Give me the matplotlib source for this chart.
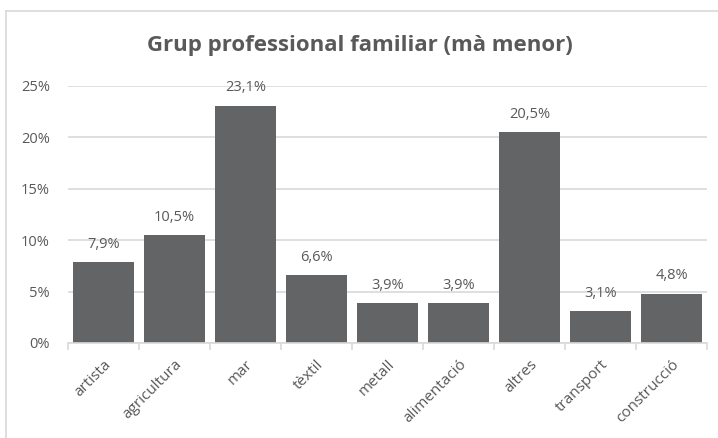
import matplotlib.pyplot as plt
from matplotlib.lines import Line2D
from matplotlib.ticker import FuncFormatter, FixedLocator

categories = ['artista', 'agricultura', 'mar', 'tèxtil', 'metall',
              'alimentació', 'altres', 'transport', 'construcció']
values = [7.9, 10.5, 23.1, 6.6, 3.9, 3.9, 20.5, 3.1, 4.8]
labels = ['7,9%', '10,5%', '23,1%', '6,6%', '3,9%', '3,9%', '20,5%', '3,1%', '4,8%']

plt.rcParams['font.family'] = ['Open Sans', 'DejaVu Sans']
text_col = '#595959'
grid_col = '#d9d9d9'
bar_col = '#636466'

fig = plt.figure(figsize=(7.18, 4.38), dpi=100)
ax = fig.add_axes([68 / 718, 1 - 343 / 438, (707 - 68) / 718, (343 - 86) / 438])

x = list(range(len(categories)))
ax.bar(x, values, width=0.86, color=bar_col, zorder=3)

for xi, v, lab in zip(x, values, labels):
    ax.text(xi, v + 1.0, lab, ha='center', va='bottom', fontsize=10.5, color=text_col)

ax.set_xlim(-0.5, len(categories) - 0.5)
ax.set_ylim(0, 25)
ax.set_yticks([0, 5, 10, 15, 20, 25])
ax.yaxis.set_major_formatter(FuncFormatter(lambda v, p: f'{v:.0f}%'))
ax.grid(axis='y', color=grid_col, linewidth=1.2, zorder=0)
ax.tick_params(axis='y', length=0, labelsize=10.5, labelcolor=text_col, pad=13)

ax.set_xticks(x)
ax.set_xticklabels(categories, rotation=45, ha='right', va='top',
                   rotation_mode='anchor', fontsize=11, color=text_col)
ax.tick_params(axis='x', length=0, pad=10)
ax.xaxis.set_minor_locator(FixedLocator([i - 0.5 for i in range(len(categories) + 1)]))
ax.tick_params(axis='x', which='minor', length=5, color=grid_col, width=1.2)

for s in ['top', 'right', 'left']:
    ax.spines[s].set_visible(False)
ax.spines['bottom'].set_color(grid_col)
ax.spines['bottom'].set_linewidth(1.2)
ax.spines['bottom'].set_zorder(4)

fig.text(360 / 718, 1 - 46 / 438, 'Grup professional familiar (mà menor)',
         ha='center', va='center', fontsize=16, fontweight='bold', color=text_col)

# chart frame
fig.add_artist(Line2D([5.5 / 718, 5.5 / 718], [0, 1 - 11 / 438], color=grid_col, lw=1.2))
fig.add_artist(Line2D([5.5 / 718, 1], [1 - 11 / 438, 1 - 11 / 438], color=grid_col, lw=1.2))

fig.savefig('out.png', dpi=100)
